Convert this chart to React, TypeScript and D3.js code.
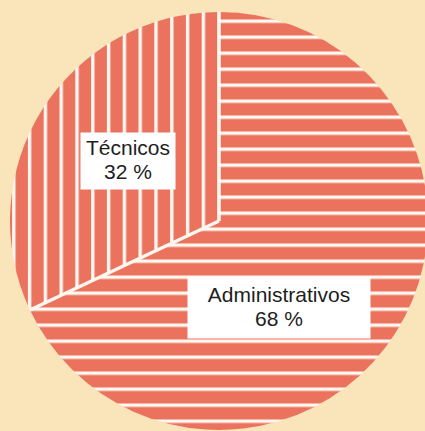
import React from "react";
import * as d3 from "d3";

const categories = ["Administrativos", "Técnicos"];
const values = [68, 32];
const percentLabels = ["68 %", "32 %"];

const W = 425;
const H = 431;
const CX = 219;
const CY = 221;
const R = 209;
const BG = "#FAE5BA";
const SALMON = "#EB735E";
const LINE = "#FFF7F0";
const HPERIOD = 16;
const VPERIOD = 15.8;
const LINE_W = 3.4;

// label layout (box center relative to pie center, box size)
const labelLayout = [
  { dx: 60, dy: 87, w: 183, h: 61 },
  { dx: -91, dy: -60, w: 95, h: 57 },
];

export default function App() {
  const pie = d3
    .pie<number>()
    .sort(null)
    .value((d) => d)
    .startAngle(0)
    .endAngle(2 * Math.PI);
  const arcs = pie(values);
  const arc = d3.arc<d3.PieArcDatum<number>>().innerRadius(0).outerRadius(R);
  const patterns = ["hstripe", "vstripe"];

  return (
    <div style={{ position: "fixed", left: 0, top: 0, width: W, height: H, background: BG }}>
      <svg width={W} height={H} style={{ display: "block" }}>
        <defs>
          <pattern id="hstripe" patternUnits="userSpaceOnUse" x={0} y={6.5} width={W} height={HPERIOD}>
            <rect x={0} y={0} width={W} height={HPERIOD} fill={SALMON} />
            <rect x={0} y={0} width={W} height={LINE_W} fill={LINE} />
          </pattern>
          <pattern id="vstripe" patternUnits="userSpaceOnUse" x={-1.5} y={0} width={VPERIOD} height={H}>
            <rect x={0} y={0} width={VPERIOD} height={H} fill={SALMON} />
            <rect x={0} y={0} width={LINE_W} height={H} fill={LINE} />
          </pattern>
        </defs>
        <rect x={0} y={0} width={W} height={H} fill={BG} />
        <g transform={`translate(${CX},${CY})`}>
          {arcs.map((a, i) => (
            <path key={categories[i]} d={arc(a) || ""} fill={`url(#${patterns[i]})`} />
          ))}
          {arcs.map((a, i) => {
            const p = d3.pointRadial(a.startAngle, R);
            return <line key={"b" + i} x1={0} y1={0} x2={p[0]} y2={p[1]} stroke={LINE} strokeWidth={3.5} />;
          })}
          {arcs.map((a, i) => {
            const L = labelLayout[i];
            return (
              <g key={"l" + i} transform={`translate(${L.dx},${L.dy})`}>
                <rect x={-L.w / 2} y={-L.h / 2} width={L.w} height={L.h} fill="#FFFFFF" />
                <text
                  textAnchor="middle"
                  fontFamily="'Liberation Sans', Arial, sans-serif"
                  fontSize={21}
                  fill="#1E1E1E"
                >
                  <tspan x={0} y={-6}>{categories[i]}</tspan>
                  <tspan x={0} y={18}>{percentLabels[i]}</tspan>
                </text>
              </g>
            );
          })}
        </g>
      </svg>
    </div>
  );
}
